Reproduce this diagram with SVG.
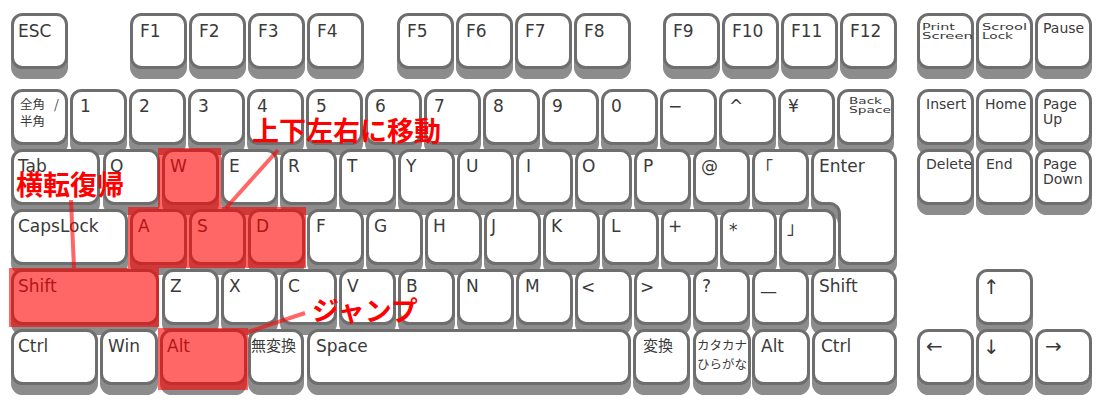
<svg xmlns="http://www.w3.org/2000/svg" width="1104" height="411" viewBox="0 0 1104 411">
<style>
.s{fill:#8c8c8c;stroke:#8c8c8c;stroke-width:3}
.k{fill:#fff;stroke:#6e6e6e;stroke-width:3}
text{font-family:"DejaVu Sans","Noto Sans CJK JP",sans-serif;fill:#3a3a3a}
.t{font-size:17px}
.ar{font-size:20px}
.n{font-size:14px}
.sm{font-size:9.5px}
.j{font-family:"Noto Sans CJK JP",sans-serif;font-size:15px}
.j2{font-family:"Noto Sans CJK JP",sans-serif;font-size:12.5px}
.hl{fill:#ff0000;fill-opacity:0.6}
.ld{stroke:#ff0000;stroke-opacity:0.6;stroke-width:4;fill:none}
.rt{font-family:"Noto Sans CJK JP",sans-serif;font-weight:700;font-size:27px;fill:#ff0000}
</style>
<rect width="1104" height="411" fill="#fff"/>
<!-- Row 1 -->
<g id="row1">
<g id="key-esc"><rect class="s" x="12.5" y="24.5" width="54" height="53" rx="10"/><rect class="k" x="12.5" y="14.5" width="54" height="53" rx="10"/><text class="t" x="18" y="37">ESC</text></g>
<g id="key-f1"><rect class="s" x="131.5" y="24.5" width="54" height="53" rx="10"/><rect class="k" x="131.5" y="14.5" width="54" height="53" rx="10"/><text class="t" x="140" y="37">F1</text></g>
<g id="key-f2"><rect class="s" x="190.5" y="24.5" width="54" height="53" rx="10"/><rect class="k" x="190.5" y="14.5" width="54" height="53" rx="10"/><text class="t" x="199" y="37">F2</text></g>
<g id="key-f3"><rect class="s" x="249.5" y="24.5" width="54" height="53" rx="10"/><rect class="k" x="249.5" y="14.5" width="54" height="53" rx="10"/><text class="t" x="258" y="37">F3</text></g>
<g id="key-f4"><rect class="s" x="308.5" y="24.5" width="54" height="53" rx="10"/><rect class="k" x="308.5" y="14.5" width="54" height="53" rx="10"/><text class="t" x="317" y="37">F4</text></g>
<g id="key-f5"><rect class="s" x="398.5" y="24.5" width="54" height="53" rx="10"/><rect class="k" x="398.5" y="14.5" width="54" height="53" rx="10"/><text class="t" x="407" y="37">F5</text></g>
<g id="key-f6"><rect class="s" x="457.5" y="24.5" width="54" height="53" rx="10"/><rect class="k" x="457.5" y="14.5" width="54" height="53" rx="10"/><text class="t" x="466" y="37">F6</text></g>
<g id="key-f7"><rect class="s" x="516.5" y="24.5" width="54" height="53" rx="10"/><rect class="k" x="516.5" y="14.5" width="54" height="53" rx="10"/><text class="t" x="525" y="37">F7</text></g>
<g id="key-f8"><rect class="s" x="575.5" y="24.5" width="54" height="53" rx="10"/><rect class="k" x="575.5" y="14.5" width="54" height="53" rx="10"/><text class="t" x="584" y="37">F8</text></g>
<g id="key-f9"><rect class="s" x="664.5" y="24.5" width="54" height="53" rx="10"/><rect class="k" x="664.5" y="14.5" width="54" height="53" rx="10"/><text class="t" x="673" y="37">F9</text></g>
<g id="key-f10"><rect class="s" x="723.5" y="24.5" width="54" height="53" rx="10"/><rect class="k" x="723.5" y="14.5" width="54" height="53" rx="10"/><text class="t" x="732" y="37">F10</text></g>
<g id="key-f11"><rect class="s" x="782.5" y="24.5" width="54" height="53" rx="10"/><rect class="k" x="782.5" y="14.5" width="54" height="53" rx="10"/><text class="t" x="791" y="37">F11</text></g>
<g id="key-f12"><rect class="s" x="841.5" y="24.5" width="54" height="53" rx="10"/><rect class="k" x="841.5" y="14.5" width="54" height="53" rx="10"/><text class="t" x="850" y="37">F12</text></g>
<g id="key-prtsc"><rect class="s" x="918.5" y="24.5" width="54" height="53" rx="10"/><rect class="k" x="918.5" y="14.5" width="54" height="53" rx="10"/><text class="sm" x="922" y="30" textLength="33" lengthAdjust="spacingAndGlyphs">Print</text><text class="sm" x="922" y="38.5" textLength="51" lengthAdjust="spacingAndGlyphs">Screen</text></g>
<g id="key-scrlk"><rect class="s" x="977.5" y="24.5" width="54" height="53" rx="10"/><rect class="k" x="977.5" y="14.5" width="54" height="53" rx="10"/><text class="sm" x="982" y="30" textLength="45" lengthAdjust="spacingAndGlyphs">Scrool</text><text class="sm" x="982" y="38.5" textLength="31" lengthAdjust="spacingAndGlyphs">Lock</text></g>
<g id="key-pause"><rect class="s" x="1036.5" y="24.5" width="54" height="53" rx="10"/><rect class="k" x="1036.5" y="14.5" width="54" height="53" rx="10"/><text class="n" x="1043" y="33">Pause</text></g>
</g>
<!-- Row 2 -->
<g id="row2">
<g id="key-zenkaku"><rect class="s" x="12.5" y="100.5" width="54" height="53" rx="10"/><rect class="k" x="12.5" y="90.5" width="54" height="53" rx="10"/><text class="j2" x="20" y="109">全角<tspan x="54">/</tspan></text><text class="j2" x="20" y="126">半角</text></g>
<g id="key-1"><rect class="s" x="71.5" y="100.5" width="54" height="53" rx="10"/><rect class="k" x="71.5" y="90.5" width="54" height="53" rx="10"/><text class="t" x="80" y="112">1</text></g>
<g id="key-2"><rect class="s" x="130.5" y="100.5" width="54" height="53" rx="10"/><rect class="k" x="130.5" y="90.5" width="54" height="53" rx="10"/><text class="t" x="139" y="112">2</text></g>
<g id="key-3"><rect class="s" x="189.5" y="100.5" width="54" height="53" rx="10"/><rect class="k" x="189.5" y="90.5" width="54" height="53" rx="10"/><text class="t" x="198" y="112">3</text></g>
<g id="key-4"><rect class="s" x="248.5" y="100.5" width="54" height="53" rx="10"/><rect class="k" x="248.5" y="90.5" width="54" height="53" rx="10"/><text class="t" x="257" y="112">4</text></g>
<g id="key-5"><rect class="s" x="307.5" y="100.5" width="54" height="53" rx="10"/><rect class="k" x="307.5" y="90.5" width="54" height="53" rx="10"/><text class="t" x="316" y="112">5</text></g>
<g id="key-6"><rect class="s" x="366.5" y="100.5" width="54" height="53" rx="10"/><rect class="k" x="366.5" y="90.5" width="54" height="53" rx="10"/><text class="t" x="375" y="112">6</text></g>
<g id="key-7"><rect class="s" x="425.5" y="100.5" width="54" height="53" rx="10"/><rect class="k" x="425.5" y="90.5" width="54" height="53" rx="10"/><text class="t" x="434" y="112">7</text></g>
<g id="key-8"><rect class="s" x="484.5" y="100.5" width="54" height="53" rx="10"/><rect class="k" x="484.5" y="90.5" width="54" height="53" rx="10"/><text class="t" x="493" y="112">8</text></g>
<g id="key-9"><rect class="s" x="543.5" y="100.5" width="54" height="53" rx="10"/><rect class="k" x="543.5" y="90.5" width="54" height="53" rx="10"/><text class="t" x="552" y="112">9</text></g>
<g id="key-0"><rect class="s" x="602.5" y="100.5" width="54" height="53" rx="10"/><rect class="k" x="602.5" y="90.5" width="54" height="53" rx="10"/><text class="t" x="611" y="112">0</text></g>
<g id="key-minus"><rect class="s" x="661.5" y="100.5" width="54" height="53" rx="10"/><rect class="k" x="661.5" y="90.5" width="54" height="53" rx="10"/><text class="t" x="668" y="112">−</text></g>
<g id="key-caret"><rect class="s" x="720.5" y="100.5" width="54" height="53" rx="10"/><rect class="k" x="720.5" y="90.5" width="54" height="53" rx="10"/><text class="t" x="729" y="112">^</text></g>
<g id="key-yen"><rect class="s" x="779.5" y="100.5" width="54" height="53" rx="10"/><rect class="k" x="779.5" y="90.5" width="54" height="53" rx="10"/><text class="t" x="788" y="112">¥</text></g>
<g id="key-bs"><rect class="s" x="838.5" y="100.5" width="54" height="53" rx="10"/><rect class="k" x="838.5" y="90.5" width="54" height="53" rx="10"/><text class="sm" x="849" y="104" textLength="33" lengthAdjust="spacingAndGlyphs">Back</text><text class="sm" x="849" y="113" textLength="42" lengthAdjust="spacingAndGlyphs">Space</text></g>
<g id="key-insert"><rect class="s" x="918.5" y="100.5" width="54" height="53" rx="10"/><rect class="k" x="918.5" y="90.5" width="54" height="53" rx="10"/><text class="n" x="926" y="109">Insert</text></g>
<g id="key-home"><rect class="s" x="977.5" y="100.5" width="54" height="53" rx="10"/><rect class="k" x="977.5" y="90.5" width="54" height="53" rx="10"/><text class="n" x="985" y="109">Home</text></g>
<g id="key-pgup"><rect class="s" x="1036.5" y="100.5" width="54" height="53" rx="10"/><rect class="k" x="1036.5" y="90.5" width="54" height="53" rx="10"/><text class="n" x="1043" y="109">Page</text><text class="n" x="1043" y="124">Up</text></g>
</g>
<!-- Row 3 -->
<g id="row3">
<g id="key-tab"><rect class="s" x="12.5" y="160.5" width="86" height="53" rx="10"/><rect class="k" x="12.5" y="150.5" width="86" height="53" rx="10"/><text class="t" x="18" y="172">Tab</text></g>
<g id="key-q"><rect class="s" x="104.5" y="160.5" width="54" height="53" rx="10"/><rect class="k" x="104.5" y="150.5" width="54" height="53" rx="10"/><text class="t" x="110" y="172">Q</text></g>
<g id="key-w"><rect class="s" x="163.5" y="160.5" width="54" height="53" rx="10"/><rect class="k" x="163.5" y="150.5" width="54" height="53" rx="10"/><text class="t" x="170" y="172">W</text></g>
<g id="key-e"><rect class="s" x="222.5" y="160.5" width="54" height="53" rx="10"/><rect class="k" x="222.5" y="150.5" width="54" height="53" rx="10"/><text class="t" x="229" y="172">E</text></g>
<g id="key-r"><rect class="s" x="281.5" y="160.5" width="54" height="53" rx="10"/><rect class="k" x="281.5" y="150.5" width="54" height="53" rx="10"/><text class="t" x="288" y="172">R</text></g>
<g id="key-t"><rect class="s" x="340.5" y="160.5" width="54" height="53" rx="10"/><rect class="k" x="340.5" y="150.5" width="54" height="53" rx="10"/><text class="t" x="347" y="172">T</text></g>
<g id="key-y"><rect class="s" x="399.5" y="160.5" width="54" height="53" rx="10"/><rect class="k" x="399.5" y="150.5" width="54" height="53" rx="10"/><text class="t" x="406" y="172">Y</text></g>
<g id="key-u"><rect class="s" x="458.5" y="160.5" width="54" height="53" rx="10"/><rect class="k" x="458.5" y="150.5" width="54" height="53" rx="10"/><text class="t" x="466" y="172">U</text></g>
<g id="key-i"><rect class="s" x="517.5" y="160.5" width="54" height="53" rx="10"/><rect class="k" x="517.5" y="150.5" width="54" height="53" rx="10"/><text class="t" x="526" y="172">I</text></g>
<g id="key-o"><rect class="s" x="576.5" y="160.5" width="54" height="53" rx="10"/><rect class="k" x="576.5" y="150.5" width="54" height="53" rx="10"/><text class="t" x="582" y="172">O</text></g>
<g id="key-p"><rect class="s" x="635.5" y="160.5" width="54" height="53" rx="10"/><rect class="k" x="635.5" y="150.5" width="54" height="53" rx="10"/><text class="t" x="643" y="172">P</text></g>
<g id="key-at"><rect class="s" x="694.5" y="160.5" width="54" height="53" rx="10"/><rect class="k" x="694.5" y="150.5" width="54" height="53" rx="10"/><text class="t" x="701" y="172">@</text></g>
<g id="key-lbracket"><rect class="s" x="753.5" y="160.5" width="54" height="53" rx="10"/><rect class="k" x="753.5" y="150.5" width="54" height="53" rx="10"/><text class="t" x="756" y="174">「</text></g>
<g id="key-enter"><path class="s" transform="translate(0,10)" d="M822.5,150.5H885.5A10,10 0 0 1 895.5,160.5V253.5A10,10 0 0 1 885.5,263.5H849.5A10,10 0 0 1 839.5,253.5V213.5A10,10 0 0 0 829.5,203.5H822.5A10,10 0 0 1 812.5,193.5V160.5A10,10 0 0 1 822.5,150.5Z"/><path class="k" d="M822.5,150.5H885.5A10,10 0 0 1 895.5,160.5V253.5A10,10 0 0 1 885.5,263.5H849.5A10,10 0 0 1 839.5,253.5V213.5A10,10 0 0 0 829.5,203.5H822.5A10,10 0 0 1 812.5,193.5V160.5A10,10 0 0 1 822.5,150.5Z"/><text class="t" x="819" y="172">Enter</text></g>
<g id="key-delete"><rect class="s" x="918.5" y="160.5" width="54" height="53" rx="10"/><rect class="k" x="918.5" y="150.5" width="54" height="53" rx="10"/><text class="n" x="926" y="169">Delete</text></g>
<g id="key-end"><rect class="s" x="977.5" y="160.5" width="54" height="53" rx="10"/><rect class="k" x="977.5" y="150.5" width="54" height="53" rx="10"/><text class="n" x="986" y="169">End</text></g>
<g id="key-pgdn"><rect class="s" x="1036.5" y="160.5" width="54" height="53" rx="10"/><rect class="k" x="1036.5" y="150.5" width="54" height="53" rx="10"/><text class="n" x="1043" y="169">Page</text><text class="n" x="1043" y="184">Down</text></g>
</g>
<!-- Row 4 -->
<g id="row4">
<g id="key-caps"><rect class="s" x="12.5" y="220.5" width="114" height="53" rx="10"/><rect class="k" x="12.5" y="210.5" width="114" height="53" rx="10"/><text class="t" x="18" y="232">CapsLock</text></g>
<g id="key-a"><rect class="s" x="131.5" y="220.5" width="54" height="53" rx="10"/><rect class="k" x="131.5" y="210.5" width="54" height="53" rx="10"/><text class="t" x="138" y="232">A</text></g>
<g id="key-s"><rect class="s" x="190.5" y="220.5" width="54" height="53" rx="10"/><rect class="k" x="190.5" y="210.5" width="54" height="53" rx="10"/><text class="t" x="197" y="232">S</text></g>
<g id="key-d"><rect class="s" x="249.5" y="220.5" width="54" height="53" rx="10"/><rect class="k" x="249.5" y="210.5" width="54" height="53" rx="10"/><text class="t" x="256" y="232">D</text></g>
<g id="key-f"><rect class="s" x="308.5" y="220.5" width="54" height="53" rx="10"/><rect class="k" x="308.5" y="210.5" width="54" height="53" rx="10"/><text class="t" x="316" y="232">F</text></g>
<g id="key-g"><rect class="s" x="367.5" y="220.5" width="54" height="53" rx="10"/><rect class="k" x="367.5" y="210.5" width="54" height="53" rx="10"/><text class="t" x="374" y="232">G</text></g>
<g id="key-h"><rect class="s" x="426.5" y="220.5" width="54" height="53" rx="10"/><rect class="k" x="426.5" y="210.5" width="54" height="53" rx="10"/><text class="t" x="433" y="232">H</text></g>
<g id="key-j"><rect class="s" x="485.5" y="220.5" width="54" height="53" rx="10"/><rect class="k" x="485.5" y="210.5" width="54" height="53" rx="10"/><text class="t" x="491" y="232">J</text></g>
<g id="key-k"><rect class="s" x="544.5" y="220.5" width="54" height="53" rx="10"/><rect class="k" x="544.5" y="210.5" width="54" height="53" rx="10"/><text class="t" x="551" y="232">K</text></g>
<g id="key-l"><rect class="s" x="603.5" y="220.5" width="54" height="53" rx="10"/><rect class="k" x="603.5" y="210.5" width="54" height="53" rx="10"/><text class="t" x="611" y="232">L</text></g>
<g id="key-plus"><rect class="s" x="662.5" y="220.5" width="54" height="53" rx="10"/><rect class="k" x="662.5" y="210.5" width="54" height="53" rx="10"/><text class="t" x="668" y="232">+</text></g>
<g id="key-star"><rect class="s" x="721.5" y="220.5" width="54" height="53" rx="10"/><rect class="k" x="721.5" y="210.5" width="54" height="53" rx="10"/><text class="t" x="729" y="236">*</text></g>
<g id="key-rbracket"><rect class="s" x="780.5" y="220.5" width="54" height="53" rx="10"/><rect class="k" x="780.5" y="210.5" width="54" height="53" rx="10"/><text class="t" x="787" y="234">」</text></g>
</g>
<!-- Row 5 -->
<g id="row5">
<g id="key-lshift"><rect class="s" x="12.5" y="280.5" width="145" height="53" rx="10"/><rect class="k" x="12.5" y="270.5" width="145" height="53" rx="10"/><text class="t" x="18" y="292">Shift</text></g>
<g id="key-z"><rect class="s" x="163.5" y="280.5" width="54" height="53" rx="10"/><rect class="k" x="163.5" y="270.5" width="54" height="53" rx="10"/><text class="t" x="170" y="292">Z</text></g>
<g id="key-x"><rect class="s" x="222.5" y="280.5" width="54" height="53" rx="10"/><rect class="k" x="222.5" y="270.5" width="54" height="53" rx="10"/><text class="t" x="229" y="292">X</text></g>
<g id="key-c"><rect class="s" x="281.5" y="280.5" width="54" height="53" rx="10"/><rect class="k" x="281.5" y="270.5" width="54" height="53" rx="10"/><text class="t" x="288" y="292">C</text></g>
<g id="key-v"><rect class="s" x="340.5" y="280.5" width="54" height="53" rx="10"/><rect class="k" x="340.5" y="270.5" width="54" height="53" rx="10"/><text class="t" x="347" y="292">V</text></g>
<g id="key-b"><rect class="s" x="399.5" y="280.5" width="54" height="53" rx="10"/><rect class="k" x="399.5" y="270.5" width="54" height="53" rx="10"/><text class="t" x="406" y="292">B</text></g>
<g id="key-n"><rect class="s" x="458.5" y="280.5" width="54" height="53" rx="10"/><rect class="k" x="458.5" y="270.5" width="54" height="53" rx="10"/><text class="t" x="466" y="292">N</text></g>
<g id="key-m"><rect class="s" x="517.5" y="280.5" width="54" height="53" rx="10"/><rect class="k" x="517.5" y="270.5" width="54" height="53" rx="10"/><text class="t" x="525" y="292">M</text></g>
<g id="key-lt"><rect class="s" x="576.5" y="280.5" width="54" height="53" rx="10"/><rect class="k" x="576.5" y="270.5" width="54" height="53" rx="10"/><text class="t" x="581" y="293">&lt;</text></g>
<g id="key-gt"><rect class="s" x="635.5" y="280.5" width="54" height="53" rx="10"/><rect class="k" x="635.5" y="270.5" width="54" height="53" rx="10"/><text class="t" x="640" y="293">&gt;</text></g>
<g id="key-q2"><rect class="s" x="694.5" y="280.5" width="54" height="53" rx="10"/><rect class="k" x="694.5" y="270.5" width="54" height="53" rx="10"/><text class="t" x="702" y="292">?</text></g>
<g id="key-dash"><rect class="s" x="753.5" y="280.5" width="54" height="53" rx="10"/><rect class="k" x="753.5" y="270.5" width="54" height="53" rx="10"/><text class="t" x="760" y="297">—</text></g>
<g id="key-rshift"><rect class="s" x="812.5" y="280.5" width="83" height="53" rx="10"/><rect class="k" x="812.5" y="270.5" width="83" height="53" rx="10"/><text class="t" x="819" y="292">Shift</text></g>
<g id="key-up"><rect class="s" x="977.5" y="280.5" width="54" height="53" rx="10"/><rect class="k" x="977.5" y="270.5" width="54" height="53" rx="10"/><text class="ar" x="983" y="294">↑</text></g>
</g>
<!-- Row 6 -->
<g id="row6">
<g id="key-lctrl"><rect class="s" x="12.5" y="340.5" width="84" height="53" rx="10"/><rect class="k" x="12.5" y="330.5" width="84" height="53" rx="10"/><text class="t" x="18" y="352">Ctrl</text></g>
<g id="key-win"><rect class="s" x="101.5" y="340.5" width="55" height="53" rx="10"/><rect class="k" x="101.5" y="330.5" width="55" height="53" rx="10"/><text class="t" x="108" y="352">Win</text></g>
<g id="key-lalt"><rect class="s" x="161.5" y="340.5" width="84" height="53" rx="10"/><rect class="k" x="161.5" y="330.5" width="84" height="53" rx="10"/><text class="t" x="167" y="352">Alt</text></g>
<g id="key-muhenkan"><rect class="s" x="249.5" y="340.5" width="53" height="53" rx="10"/><rect class="k" x="249.5" y="330.5" width="53" height="53" rx="10"/><text class="j" x="251" y="351">無変換</text></g>
<g id="key-space"><rect class="s" x="308.5" y="340.5" width="321" height="53" rx="10"/><rect class="k" x="308.5" y="330.5" width="321" height="53" rx="10"/><text class="t" x="316" y="352">Space</text></g>
<g id="key-henkan"><rect class="s" x="634.5" y="340.5" width="54" height="53" rx="10"/><rect class="k" x="634.5" y="330.5" width="54" height="53" rx="10"/><text class="j" x="643" y="351">変換</text></g>
<g id="key-kana"><rect class="s" x="694.5" y="340.5" width="55" height="53" rx="10"/><rect class="k" x="694.5" y="330.5" width="55" height="53" rx="10"/><text class="j2" x="697" y="350">カタカナ</text><text class="j2" x="697" y="369">ひらがな</text></g>
<g id="key-ralt"><rect class="s" x="753.5" y="340.5" width="55" height="53" rx="10"/><rect class="k" x="753.5" y="330.5" width="55" height="53" rx="10"/><text class="t" x="761" y="352">Alt</text></g>
<g id="key-rctrl"><rect class="s" x="813.5" y="340.5" width="82" height="53" rx="10"/><rect class="k" x="813.5" y="330.5" width="82" height="53" rx="10"/><text class="t" x="821" y="352">Ctrl</text></g>
<g id="key-left"><rect class="s" x="918.5" y="340.5" width="54" height="53" rx="10"/><rect class="k" x="918.5" y="330.5" width="54" height="53" rx="10"/><text class="ar" x="926" y="353">←</text></g>
<g id="key-down"><rect class="s" x="977.5" y="340.5" width="54" height="53" rx="10"/><rect class="k" x="977.5" y="330.5" width="54" height="53" rx="10"/><text class="ar" x="983" y="354">↓</text></g>
<g id="key-right"><rect class="s" x="1036.5" y="340.5" width="54" height="53" rx="10"/><rect class="k" x="1036.5" y="330.5" width="54" height="53" rx="10"/><text class="ar" x="1045" y="353">→</text></g>
</g>
<!-- Highlights -->
<g id="highlights">
<rect class="hl" x="158" y="148" width="63" height="59"/>
<rect class="hl" x="128" y="207" width="178" height="61"/>
<rect class="hl" x="9" y="268" width="150" height="59"/>
<rect class="hl" x="158" y="328" width="90" height="62"/>
</g>
<!-- Connectors -->
<g id="connectors">
<line class="ld" x1="278" y1="150" x2="226" y2="208"/>
<line class="ld" x1="71" y1="200" x2="74" y2="268"/>
<line class="ld" x1="305" y1="313" x2="248" y2="332"/>
</g>
<!-- Annotations -->
<g id="label-move"><text class="rt" x="252" y="141">上下左右に移動</text></g>
<g id="label-recover"><text class="rt" x="16" y="195">横転復帰</text></g>
<g id="label-jump"><text class="rt" x="312" y="321">ジャンプ</text></g>
</svg>
